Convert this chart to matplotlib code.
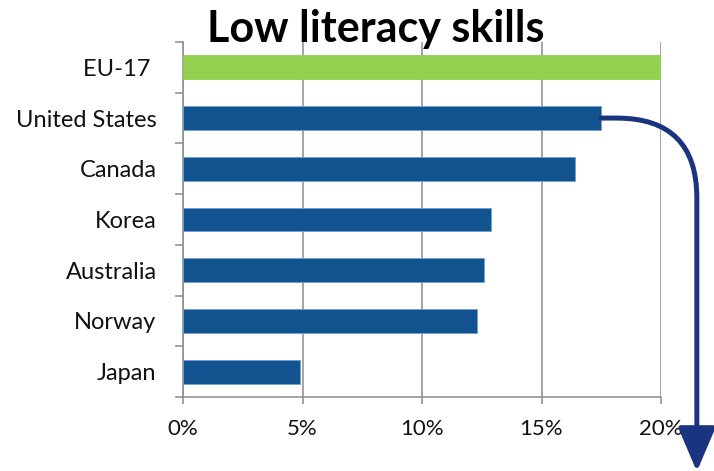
import matplotlib
matplotlib.use("Agg")
import matplotlib.pyplot as plt
from matplotlib.ticker import FuncFormatter

# data, top to bottom
countries = ["EU-17 ", "United States", "Canada", "Korea", "Australia", "Norway", "Japan"]
low_literacy = [20.0, 17.5, 16.4, 12.9, 12.6, 12.3, 4.9]
bar_colors = ["#92d050", "#12548f", "#12548f", "#12548f", "#12548f", "#12548f", "#12548f"]
x_ticks = [0, 5, 10, 15, 20]

plt.rcParams['font.family'] = ['Lato', 'DejaVu Sans']

fig = plt.figure(figsize=(7.14, 4.71), dpi=100)
ax = fig.add_axes([183 / 714, 1 - 397 / 471, 478 / 714, 355 / 471])

ypos = list(range(len(countries)))[::-1]
ax.barh(ypos, low_literacy, height=0.47, color=bar_colors,
        edgecolor="#6f9fd0", linewidth=0.6, zorder=3)
# green bar has no blue edge
ax.patches[0].set_edgecolor(bar_colors[0])

ax.set_xlim(0, 20)
ax.set_ylim(-0.5, len(countries) - 0.5)

# gridlines
ax.set_xticks(x_ticks)
ax.xaxis.set_major_formatter(FuncFormatter(lambda v, p: f"{v:.0f}%"))
ax.grid(axis="x", color="#8c8c8c", linewidth=1.1, zorder=0)

ax.set_yticks(ypos)
ax.set_yticklabels(countries)
ax.set_yticks([y - 0.5 for y in range(len(countries) + 1)], minor=True)

for s in ["top", "right"]:
    ax.spines[s].set_visible(False)
for s in ["left", "bottom"]:
    ax.spines[s].set_color("#8c8c8c")
    ax.spines[s].set_linewidth(1.1)

ax.tick_params(axis="y", which="major", length=0, pad=19, labelsize=17, labelcolor="#111111")
ax.tick_params(axis="y", which="minor", length=6, width=1.1, color="#8c8c8c")
ax.tick_params(axis="x", length=5, width=1.1, color="#8c8c8c", pad=11, labelsize=16,
               labelcolor="#111111")

# title
fig.text(376 / 714, 1 - 29 / 471, "Low literacy skills", ha="center", va="center",
         fontsize=31, fontweight="bold", color="black")

# curved arrow from the end of the US bar down past the axis
us_idx = 1
ax.annotate("", xy=(1.075, -0.21), xycoords="axes fraction",
            xytext=(low_literacy[us_idx], ypos[us_idx]), textcoords="data",
            arrowprops=dict(arrowstyle="-|>,head_length=27,head_width=11.5",
                            connectionstyle="angle,angleA=0,angleB=90,rad=80",
                            color="#1b3480", linewidth=3.6, mutation_scale=1,
                            shrinkA=0, shrinkB=0),
            annotation_clip=False, zorder=5)

fig.savefig("out.png", dpi=100)
